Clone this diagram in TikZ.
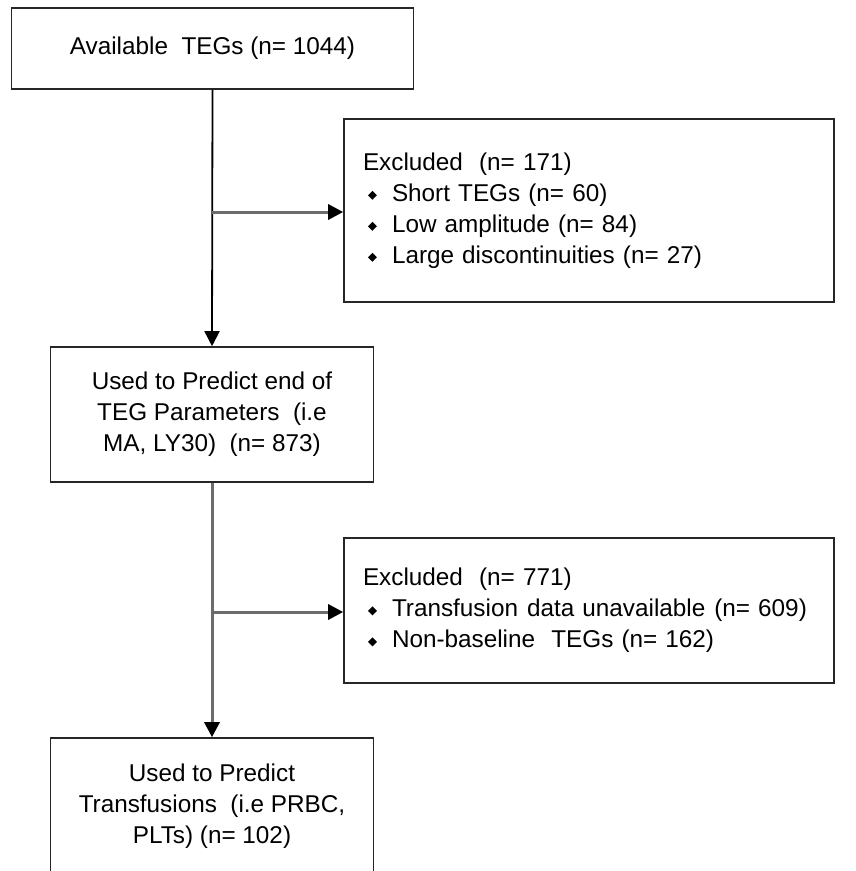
\documentclass[tikz,border=0pt]{standalone}
\usepackage{fontspec}
\setmainfont{Liberation Sans}
\usetikzlibrary{arrows.meta}
\newcommand{\dia}{\hspace*{5pt}\makebox[24pt][l]{\raisebox{1.5pt}{\rotatebox{45}{\rule{6.3pt}{6.3pt}}}}}
\newcommand{\gap}{\hspace{9pt}}
\tikzset{
  box/.style={draw=black!85, line width=1.6pt, inner sep=0pt, align=center},
  exbox/.style={box, align=left, inner xsep=19pt, text width=452pt},
  blackline/.style={draw=black, line width=1.8pt, -{Triangle[length=15pt,width=15pt]}},
  grayline/.style={draw=black!58, line width=3pt, -{Triangle[length=15pt,width=15pt,black]}}
}
\begin{document}
\begin{tikzpicture}[x=1pt,y=-1pt,font=\fontsize{24.3}{31}\selectfont]
\useasboundingbox (0,0) rectangle (856,871);
\node[box, minimum width=402pt, minimum height=81pt] (avail) at (212.5,48.5) {Available\ \ TEGs (n= 1044)};
\node[exbox, minimum height=183pt] (ex1) at (589,210.5) {\mbox{Excluded\ \ (n= 171)}\\ \mbox{\dia Short TEGs (n= 60)}\\ \mbox{\dia Low amplitude (n= 84)}\\ \mbox{\dia Large discontinuities (n= 27)}};
\node[box, minimum width=323pt, minimum height=135pt] (pred) at (212,414.5) {Used to Predict end of\\TEG Parameters\ \ (i.e\\MA, LY30)\ \ (n= 873)};
\node[exbox, minimum height=145pt] (ex2) at (589,610.5) {\mbox{Excluded\ \ (n= 771)}\\ \mbox{\dia Transfusion\gap data unavailable\gap (n= 609)}\\ \mbox{\dia Non-baseline\ \ TEGs (n= 162)}};
\node[box, minimum width=323pt, minimum height=136pt] (trans) at (212,806) {Used to Predict\\Transfusions\ \ (i.e PRBC,\\PLTs) (n= 102)};
\coordinate (j1) at (212,212);
\coordinate (j2) at (212,612);
\draw[blackline] (avail.south) -- (pred.north);
\draw[grayline] (j1) -- (j1 -| ex1.west);
\draw[grayline] (pred.south) -- (trans.north);
\draw[grayline] (j2) -- (j2 -| ex2.west);
\end{tikzpicture}
\end{document}
